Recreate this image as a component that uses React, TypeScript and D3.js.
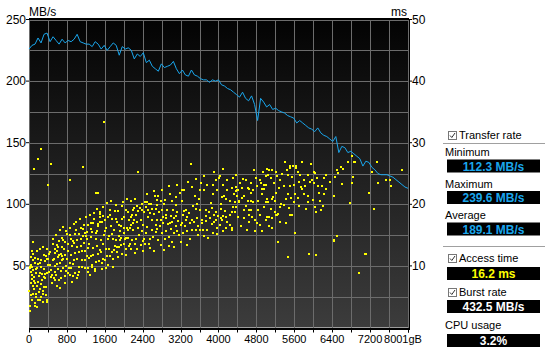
import * as d3 from 'd3';
import React from 'react';

// transfer rate (MB/s), sampled evenly across the disk 0..8001 GB
const transferRate = [
  226, 229, 230, 235, 231, 238, 239, 232, 236, 233, 230, 234, 231, 233, 232, 234,
  238, 232, 231, 230, 230, 228, 232, 230, 226, 229, 225, 228, 231, 229, 221, 228,
  226, 227, 225, 218, 222, 220, 223, 215, 217, 212, 210, 208, 214, 211, 212, 213,
  216, 210, 206, 209, 205, 204, 209, 205, 204, 202, 201, 201, 199, 201, 200, 201,
  197, 196, 194, 193, 191, 189, 187, 191, 186, 184, 188, 181, 168, 186, 183, 179,
  181, 177, 178, 176, 175, 174, 172, 171, 170, 166, 168, 166, 164, 162, 161, 159,
  162, 158, 156, 155, 153, 151, 155, 142, 147, 146, 142, 143, 141, 139, 137, 131,
  135, 134, 130, 128, 125, 124, 124, 124, 123, 122, 120, 118, 116, 114, 113,
];

// access time samples [GB, ms]
const accessTime: [number, number][] = [
  [260, 29.0], [197, 27.3], [113, 25.8], [472, 26.5], [1148, 26.1], [873, 24.0], [408, 23.1],
  [1408, 21.9], [1464, 21.9], [92, 13.8], [1583, 33.4],
  [1957, 19.7], [1809, 18.9], [1718, 19.0], [1887, 18.9], [2049, 19.0], [2091, 18.8], [1507, 18.8],
  [1507, 18.4], [1507, 17.9], [1760, 17.6], [1844, 17.6], [1957, 17.6], [1668, 17.9], [2105, 17.4],
  [1352, 17.0], [1316, 16.9], [1500, 17.1], [1549, 17.1], [1457, 16.8], [1239, 16.7], [1162, 16.7],
  [1148, 16.0], [1464, 16.4], [1443, 15.7], [1626, 16.2], [1894, 16.7], [1943, 16.4], [1612, 15.7],
  [1915, 15.7], [2006, 16.2], [2063, 16.2], [2091, 15.9], [1795, 15.9], [1690, 14.9], [1753, 15.1],
  [1781, 14.4], [1668, 14.4], [1901, 14.8], [1943, 14.5], [1929, 14.2], [2056, 14.5], [2098, 14.6],
  [2013, 13.6], [1809, 13.3], [2105, 13.2], [2056, 12.8], [1894, 13.0], [1746, 12.2], [1802, 12.6],
  [1633, 12.7], [1563, 13.6], [1521, 14.2], [1408, 14.3], [1302, 14.7], [1225, 14.4], [1267, 13.6],
  [1169, 13.7], [1105, 13.3], [1021, 14.2], [922, 14.1], [972, 15.1], [1049, 15.1], [873, 15.0],
  [803, 15.1], [887, 14.3], [704, 14.5], [725, 14.2], [627, 14.1], [620, 13.0], [697, 13.0],
  [732, 12.7], [584, 13.4], [556, 12.8], [514, 13.6], [542, 12.1], [422, 11.9], [352, 11.6],
  [387, 11.1], [310, 11.8], [246, 10.9], [183, 11.2], [120, 11.3], [92, 10.9], [127, 10.4],
  [190, 10.3], [35, 10.2], [14, 9.8], [56, 9.9], [141, 9.5], [232, 10.4], [331, 10.8], [408, 11.1],
  [444, 10.2], [528, 11.2], [634, 11.7], [697, 10.9], [725, 11.1], [648, 10.5], [514, 10.9],
  [612, 11.5], [584, 10.3], [690, 11.6], [84, 9.3], [42, 9.0], [155, 8.9], [225, 8.9], [268, 8.7],
  [331, 8.7], [373, 8.9], [310, 8.2], [211, 8.3], [70, 7.8], [106, 7.5], [134, 7.2], [176, 6.8],
  [253, 7.0], [317, 6.6], [35, 7.2], [84, 6.8], [141, 5.5], [92, 5.5], [211, 5.7], [296, 5.4],
  [260, 5.0], [303, 4.1], [387, 4.4], [380, 4.1], [148, 5.0], [162, 3.4], [120, 3.5], [21, 3.5],
  [21, 2.7], [458, 8.2], [493, 8.5], [577, 8.5], [521, 8.0], [556, 7.7], [641, 7.7], [669, 8.1],
  [620, 9.5], [683, 9.2], [767, 8.3], [866, 8.5], [824, 8.8], [845, 9.6], [929, 8.4], [964, 8.8],
  [1042, 8.5], [1014, 8.1], [1063, 9.0], [1126, 9.9], [1176, 9.7], [1253, 9.7], [1331, 9.8],
  [1387, 9.5], [1338, 10.2], [1408, 10.7], [1478, 10.8], [1542, 10.5], [1464, 12.0], [1492, 12.6],
  [1302, 11.6], [1359, 11.7], [1232, 11.6], [1176, 12.4], [1253, 12.9], [1063, 12.3], [1126, 12.5],
  [979, 12.1], [880, 11.7], [810, 11.1], [859, 10.5], [936, 10.3], [1056, 9.9], [788, 10.0],
  [760, 7.3], [901, 7.4], [1288, 8.5], [1239, 9.0], [1401, 9.2], [1542, 9.5], [1619, 9.7],
  [1774, 9.8], [1676, 10.2], [1556, 11.2], [1640, 11.6], [1718, 11.6], [1859, 12.2], [1964, 12.0],
  [2056, 11.7], [1866, 13.1], [14, 9.7], [56, 8.5], [197, 7.4], [282, 7.7], [338, 8.0], [106, 6.3],
  [232, 6.3], [352, 6.6], [190, 4.4], [49, 5.2], [401, 10.2], [472, 9.4], [549, 9.0], [753, 11.7],
  [669, 12.0], [831, 12.5], [915, 13.2], [1007, 13.1], [1098, 14.3], [1197, 14.8], [1338, 15.5],
  [1408, 15.3], [1591, 15.0], [1830, 14.2], [2006, 15.4], [1725, 16.4], [1598, 17.4],
  [40, 11.4], [80, 12.0], [160, 12.5], [230, 12.8], [300, 13.1], [370, 12.7], [450, 12.3], [500, 14.4],
  [580, 15.0], [650, 15.8], [720, 16.3], [780, 15.7], [860, 16.2], [940, 16.8], [1000, 17.2],
  [1080, 17.6], [1200, 17.9], [1280, 18.3], [1380, 18.6], [1430, 19.2], [1560, 19.6], [1650, 20.2],
  [1740, 20.6], [1830, 19.9], [1980, 20.4], [2060, 20.8], [100, 8.2], [170, 9.6], [250, 9.9],
  [320, 9.5], [420, 9.0], [480, 7.2], [590, 6.8], [660, 6.4], [720, 9.6], [790, 9.1], [880, 9.7],
  [950, 10.9], [1020, 11.2], [1110, 11.0], [1190, 10.9], [1270, 11.3], [1360, 12.9], [1440, 13.2],
  [1520, 12.3], [1600, 11.0], [1690, 12.8], [1780, 11.1], [1880, 11.4], [1950, 13.4], [2030, 14.3],
  [1000, 15.9], [1090, 16.2], [1230, 15.5], [1300, 16.0], [1380, 17.6], [1570, 18.1], [1700, 18.3],
  [1860, 17.2], [2000, 18.0], [60, 4.4], [130, 3.9], [230, 4.4], [290, 6.0], [350, 5.2], [10, 6.0],
  [60, 12.4], [540, 10.0], [600, 12.4], [760, 13.9], [830, 13.6], [960, 13.7], [1130, 14.8],
  [1180, 15.4],
  [2308, 25.2], [3428, 26.6], [4033, 24.6], [4188, 23.9], [4096, 23.2], [3955, 23.9], [3885, 23.1],
  [3765, 23.1], [3639, 23.5], [3969, 22.4], [3885, 21.7], [4082, 21.2], [4174, 22.4], [4118, 21.4],
  [3702, 22.3], [3611, 22.3], [3505, 21.4], [3589, 20.9], [3449, 22.8], [3273, 22.4], [3195, 21.9],
  [3237, 22.3], [3223, 20.5], [3097, 21.2], [2970, 21.6], [3026, 20.5], [2871, 20.7], [2731, 21.4],
  [2653, 21.3], [2702, 20.7], [2780, 20.5], [2569, 20.1], [2498, 20.3], [2442, 20.4], [2393, 20.1],
  [2336, 19.4], [2217, 19.4], [2195, 19.0], [2308, 18.9], [2181, 18.2], [2146, 18.0], [2252, 18.2],
  [2428, 18.8], [2519, 19.0], [2604, 19.3], [2674, 19.3], [2815, 19.1], [2921, 19.0], [3040, 19.0],
  [3132, 18.8], [3273, 18.9], [3322, 19.0], [3378, 18.6], [3533, 19.3], [3611, 19.0], [3730, 19.0],
  [3801, 18.8], [3871, 19.4], [3955, 18.8], [4054, 19.2], [4132, 18.9], [4103, 18.1], [4047, 17.7],
  [3906, 18.2], [3730, 18.1], [3646, 17.5], [3554, 17.7], [3435, 17.4], [3343, 18.0], [3252, 18.2],
  [3097, 18.1], [2991, 18.1], [2885, 18.2], [2780, 17.4], [2709, 17.5], [2604, 17.4], [2519, 18.0],
  [2357, 17.4], [2217, 17.4], [2160, 16.6], [2132, 16.1], [2195, 15.9], [2273, 17.2], [2407, 16.6],
  [2498, 16.3], [2674, 16.6], [2759, 16.4], [2836, 16.9], [2942, 16.8], [3026, 17.1], [3111, 16.4],
  [3202, 16.6], [3294, 16.4], [3449, 15.9], [3519, 15.8], [3604, 15.9], [3674, 15.8], [3765, 15.9],
  [3857, 16.8], [3977, 16.2], [4026, 16.6], [4153, 16.2], [3787, 14.6], [3400, 14.3], [3167, 15.0],
  [3061, 15.3], [2956, 14.7], [2871, 14.4], [2794, 13.4], [2956, 13.2], [2731, 14.2], [2625, 14.7],
  [2547, 14.4], [2533, 13.6], [2428, 14.4], [2407, 14.0], [2357, 13.4], [2266, 14.3], [2167, 14.2],
  [2132, 13.5], [2231, 13.5], [2146, 12.8], [2231, 12.1], [2639, 12.5], [2449, 13.6], [3202, 13.9],
  [3012, 13.9], [2815, 15.3], [2674, 15.5], [2322, 15.0], [2463, 15.3], [4012, 24.2], [3836, 20.2],
  [3554, 20.1], [3463, 19.7], [3097, 19.9], [2850, 20.0], [2709, 19.9], [2533, 20.1], [4153, 18.0],
  [3941, 17.4], [4167, 20.9], [4047, 20.1],
  [2160, 20.6], [2240, 20.9], [2290, 19.8], [2380, 19.0], [2470, 19.6], [2560, 18.6], [2640, 18.4],
  [2740, 18.8], [2830, 18.0], [2900, 17.8], [2970, 17.0], [3060, 17.8], [3150, 17.3], [3220, 17.0],
  [3310, 17.5], [3390, 16.9], [3480, 17.1], [3570, 16.5], [3660, 16.9], [3740, 17.3], [3820, 17.8],
  [3900, 17.1], [3990, 18.1], [4080, 17.4], [4190, 17.1], [2190, 16.9], [2300, 16.2], [2380, 15.6],
  [2590, 15.9], [2700, 16.0], [2890, 15.7], [3000, 16.0], [3130, 15.6], [3250, 15.3], [3330, 15.7],
  [3560, 15.0], [3700, 14.9], [3880, 15.4], [3960, 15.2], [4100, 15.6], [2280, 12.7], [2400, 12.4],
  [2560, 12.9], [2860, 12.6], [3070, 13.0], [3330, 13.4], [2500, 21.7], [2640, 22.1], [2800, 22.4],
  [2950, 22.9], [3120, 23.2], [3350, 23.7], [3530, 24.1], [3700, 24.6], [3900, 25.3], [4100, 25.8],
  [4757, 25.6], [5032, 25.8], [5067, 25.5], [5137, 25.5], [5039, 24.8], [4996, 24.6], [5208, 25.2],
  [5229, 24.6], [5405, 26.8], [5517, 26.2], [5517, 25.9], [5581, 26.2], [5644, 26.2], [5644, 25.9],
  [5771, 26.8], [5961, 26.5], [6024, 25.2], [5722, 24.8], [5890, 24.7], [5968, 24.0], [6024, 23.5],
  [6095, 22.9], [6228, 24.3], [6278, 24.7], [5475, 24.8], [5306, 23.9], [5391, 23.0], [5517, 22.9],
  [5602, 23.2], [5707, 23.7], [5834, 23.0], [5771, 22.5], [5750, 22.8], [5623, 21.7], [5475, 21.6],
  [5538, 21.1], [5686, 21.1], [5813, 21.7], [5898, 21.4], [5898, 20.4], [6123, 21.9], [6235, 21.6],
  [6151, 20.6], [6045, 19.5], [6158, 19.0], [6066, 18.7], [5433, 20.8], [5320, 20.1], [5222, 21.9],
  [5158, 21.2], [5137, 20.8], [5053, 20.3], [5010, 20.3], [5032, 20.9], [4961, 22.5], [4926, 22.5],
  [4905, 23.4], [4968, 23.2], [5010, 23.2], [4926, 21.6], [4842, 20.5], [4799, 24.2], [4694, 23.5],
  [4630, 22.7], [4645, 22.5], [4504, 22.7], [4694, 21.9], [4630, 20.6], [4687, 20.6], [4736, 20.4],
  [4504, 21.1], [4391, 22.3], [4377, 22.2], [4405, 22.4], [4398, 21.3], [4377, 22.8], [4377, 24.8],
  [4314, 24.2], [4250, 20.6], [4349, 20.4], [4433, 20.4], [4250, 18.2], [4278, 18.7], [4356, 18.8],
  [4377, 19.6], [4546, 19.1], [4651, 19.0], [4694, 19.0], [4651, 18.3], [4842, 19.0], [4546, 17.7],
  [4651, 17.2], [4778, 17.5], [5032, 17.9], [5010, 17.4], [5074, 18.0], [5137, 17.7], [5201, 18.7],
  [5243, 18.3], [5264, 18.5], [5222, 18.3], [5306, 19.6], [5517, 18.2], [5560, 18.2], [4884, 16.7],
  [4778, 15.6], [4926, 15.6], [5137, 16.1], [5623, 15.4], [4250, 16.7], [4292, 16.2], [4292, 15.8],
  [5264, 13.8], [5475, 11.5], [5918, 11.9], [6066, 11.7], [6045, 25.1], [6130, 21.9], [4440, 20.5],
  [4546, 21.3],
  [4280, 22.7], [4330, 21.6], [4460, 23.4], [4520, 24.1], [4590, 23.9], [4720, 22.3], [4810, 22.9],
  [4880, 24.0], [4950, 25.3], [5100, 24.2], [5170, 23.4], [5270, 22.7], [5350, 25.0], [5440, 25.6],
  [5560, 24.5], [5680, 25.3], [5800, 24.0], [5930, 23.6], [6080, 24.3], [6180, 23.0], [6270, 22.5],
  [4310, 19.5], [4420, 18.0], [4580, 19.8], [4700, 18.0], [4880, 18.3], [4960, 19.5], [5100, 19.3],
  [5200, 20.5], [5380, 19.9], [5480, 19.4], [5590, 20.3], [5700, 19.8], [5850, 19.3], [5990, 20.7],
  [6200, 19.8], [4480, 16.5], [4600, 15.9], [4820, 16.9], [5060, 16.5], [5300, 17.2], [5420, 16.9],
  [6346, 23.7], [6445, 21.3], [6466, 24.4], [6508, 25.5], [6529, 25.1], [6592, 26.0], [6635, 25.7],
  [6614, 23.3], [6740, 26.9], [6825, 23.4], [6846, 24.5], [6853, 26.8], [6888, 26.8], [6783, 20.2],
  [6445, 14.2], [6508, 14.8], [7170, 21.8], [7100, 11.9], [6973, 8.8], [7282, 19.2], [7353, 26.8],
  [7247, 25.2], [7374, 23.4], [7529, 23.9], [7613, 23.9], [7648, 22.9], [7874, 25.5], [6825, 27.9],
  [6438, 14.0], [7114, 11.9],
];

const rateTicks = [50, 100, 150, 200, 250];
const msTicks = [10, 20, 30, 40, 50];
const gbTicks = [0, 800, 1600, 2400, 3200, 4000, 4800, 5600, 6400, 7200];
const gbMax = 8001;

const statLabels = ['Minimum', 'Maximum', 'Average'];
const statValues = ['112.3 MB/s', '239.6 MB/s', '189.1 MB/s'];
const accessValue = '16.2 ms';
const burstValue = '432.5 MB/s';
const cpuValue = '3.2%';

const W = 545;
const H = 353;
const left = 29;
const right = 408;
const top = 19.5;
const bottom = 327.5;

const font = '"Liberation Sans", Arial, sans-serif';

function CheckBox({ x, y, label }: { x: number; y: number; label: string }) {
  return (
    <g>
      <rect x={x + 0.5} y={y + 0.5} width={8} height={8} fill="#fff" stroke="#777" />
      <path d={`M${x + 2},${y + 4.5} L${x + 3.8},${y + 6.5} L${x + 7},${y + 2}`} fill="none" stroke="#333" strokeWidth={1} />
      <text x={x + 11} y={y + 8} fontSize={11} fontFamily={font} fill="#000">{label}</text>
    </g>
  );
}

function ValueBox({ y, text, color }: { y: number; text: string; color: string }) {
  return (
    <g>
      <rect x={447} y={y} width={93} height={13} fill="#000" />
      <text x={493.5} y={y + 11} textAnchor="middle" fontSize={12} fontWeight="bold" fontFamily={font} fill={color}>{text}</text>
    </g>
  );
}

export default function App() {
  const x = d3.scaleLinear().domain([0, gbMax]).range([left, right]);
  const yRate = d3.scaleLinear().domain([0, 250]).range([bottom, top]);
  const yMs = d3.scaleLinear().domain([0, 50]).range([bottom, top]);

  const step = gbMax / (transferRate.length - 1);
  const line = d3
    .line<number>()
    .x((d, i) => x(i * step))
    .y((d) => yRate(d));

  const vGrid = d3.range(0, gbMax, 400).concat([gbMax]);
  const hGrid = d3.range(0, 251, 25);

  return (
    <div style={{ position: 'fixed', left: 0, top: 0 }}>
      <svg width={W} height={H} style={{ display: 'block', background: '#fff' }}>
        <defs>
          <linearGradient id="bg" x1="0" y1="0" x2="0" y2="1">
            <stop offset="0%" stopColor="#030303" />
            <stop offset="100%" stopColor="#3c3c3c" />
          </linearGradient>
        </defs>
        <rect x={left} y={top} width={right - left} height={bottom - top} fill="url(#bg)" />

        {/* grid */}
        <g stroke="#6c6c6c" strokeWidth={1} shapeRendering="crispEdges">
          {vGrid.map((g) => (
            <line key={'v' + g} x1={Math.round(x(g)) + 0.5} x2={Math.round(x(g)) + 0.5} y1={top} y2={bottom} />
          ))}
          {hGrid.map((v) => (
            <line key={'h' + v} x1={left} x2={right} y1={Math.round(yRate(v)) + 0.5} y2={Math.round(yRate(v)) + 0.5} />
          ))}
        </g>

        {/* frame */}
        <g stroke="#000" shapeRendering="crispEdges">
          <line x1={left} x2={right + 1} y1={top - 1} y2={top - 1} strokeWidth={2} />
          <line x1={left} x2={right + 1} y1={bottom + 1.5} y2={bottom + 1.5} strokeWidth={2} />
          <line x1={right + 1} x2={right + 1} y1={top - 1} y2={bottom + 2} strokeWidth={1} />
        </g>

        {/* access time dots */}
        <g fill="#ffff00">
          {accessTime.map(([gb, ms], i) => (
            <rect key={i} x={Math.round(x(gb)) - 1} y={Math.round(yMs(ms)) - 1} width={2} height={2} />
          ))}
        </g>

        {/* transfer rate */}
        <path d={line(transferRate) || ''} fill="none" stroke="#1aa6ec" strokeWidth={1} strokeLinejoin="round" />

        {/* left axis */}
        <g fontFamily={font} fontSize={12} fill="#000">
          {rateTicks.map((v) => (
            <g key={v}>
              <line x1={left - 3} x2={left} y1={yRate(v)} y2={yRate(v)} stroke="#000" />
              <text x={left - 3} y={yRate(v) + 4} textAnchor="end">{v}</text>
            </g>
          ))}
          <text x={left} y={16}>MB/s</text>
        </g>

        {/* right axis */}
        <g fontFamily={font} fontSize={12} fill="#000">
          {msTicks.map((v) => (
            <g key={v}>
              <line x1={right + 1} x2={right + 4} y1={yMs(v)} y2={yMs(v)} stroke="#000" />
              <text x={right + 4} y={yMs(v) + 4}>{v}</text>
            </g>
          ))}
          <text x={right - 1} y={16} textAnchor="end">ms</text>
        </g>

        {/* bottom axis */}
        <g fontFamily={font} fontSize={11} fill="#000">
          {vGrid.map((g) => (
            <line key={'t' + g} x1={Math.round(x(g)) + 0.5} x2={Math.round(x(g)) + 0.5} y1={bottom + 2} y2={bottom + 5} stroke="#000" />
          ))}
          {gbTicks.map((g) => (
            <text key={g} x={x(g)} y={343} textAnchor="middle">{g}</text>
          ))}
          <text x={x(gbMax) + 0.5} y={343} textAnchor="end">{gbMax}</text>
          <text x={x(gbMax) + 0.5} y={343}>gB</text>
        </g>

        {/* side panel */}
        <CheckBox x={448} y={131} label="Transfer rate" />
        <line x1={443} x2={545} y1={143.5} y2={143.5} stroke="#a0a0a0" />
        {statLabels.map((s, i) => (
          <g key={s}>
            <text x={445} y={156 + i * 31.5} fontSize={11} fontFamily={font} fill="#000">{s}</text>
            <ValueBox y={159.5 + i * 31.5} text={statValues[i]} color="#1aa6ec" />
          </g>
        ))}
        <line x1={443} x2={545} y1={246.5} y2={246.5} stroke="#a0a0a0" />
        <CheckBox x={448} y={254} label="Access time" />
        <ValueBox y={267} text={accessValue} color="#ffff00" />
        <CheckBox x={448} y={288} label="Burst rate" />
        <ValueBox y={300} text={burstValue} color="#fff" />
        <text x={445} y={329} fontSize={11} fontFamily={font} fill="#000">CPU usage</text>
        <ValueBox y={334} text={cpuValue} color="#fff" />
      </svg>
    </div>
  );
}
